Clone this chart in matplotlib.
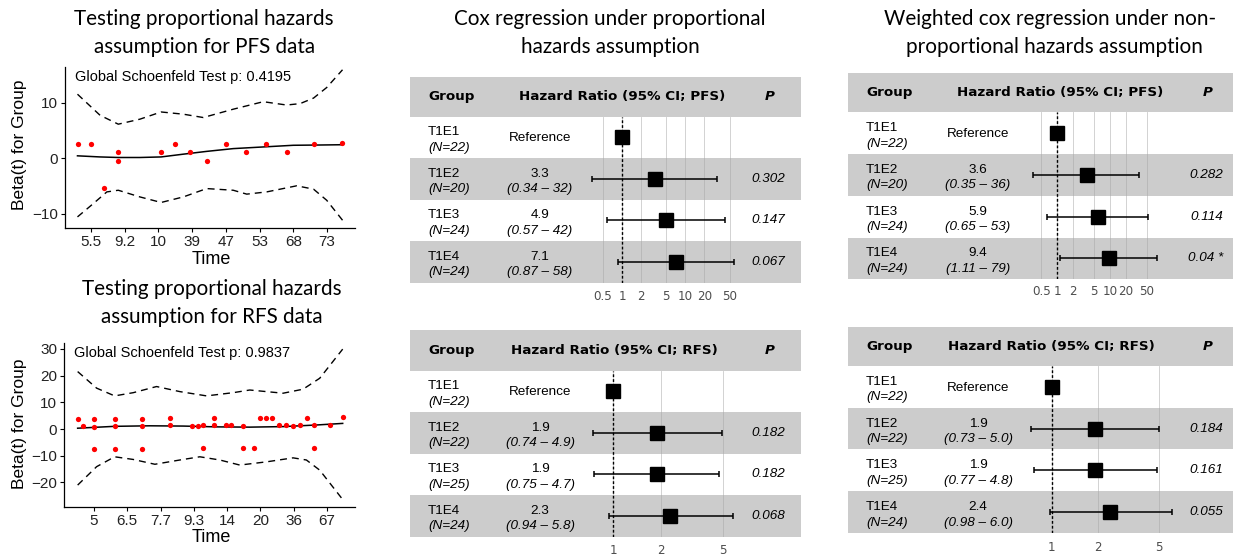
import numpy as np
import matplotlib.pyplot as plt
from matplotlib.patches import Rectangle
from matplotlib.transforms import blended_transform_factory

W, H = 1233, 558

# ---------------- Schoenfeld residual panels (x = rank of event time) ----------------
pfs_time_labels = ["5.5", "9.2", "10", "39", "47", "53", "68", "73"]
pfs_pt_x = [0.61, 1.00, 1.39, 1.80, 1.80, 3.08, 3.49, 3.94, 4.44, 5.00, 5.60, 6.19, 6.82, 7.62, 8.45]
pfs_pt_y = [2.5, 2.5, -5.4, 1.0, -0.6, 1.0, 2.5, 1.0, -0.6, 2.5, 1.0, 2.6, 1.1, 2.6, 2.7]
pfs_fit_x = [0.60, 1.27, 1.81, 2.45, 3.08, 3.74, 4.43, 5.22, 6.11, 7.00, 7.80, 8.46]
pfs_fit_y = [0.4, 0.2, 0.1, 0.1, 0.2, 0.7, 1.2, 1.7, 2.0, 2.3, 2.35, 2.4]
pfs_up_x = [0.60, 1.27, 1.81, 2.45, 3.08, 3.74, 4.33, 5.22, 6.11, 6.80, 7.20, 7.60, 7.99, 8.46]
pfs_up_y = [11.5, 7.7, 6.1, 7.0, 8.3, 7.9, 7.3, 8.8, 10.15, 9.55, 9.8, 10.8, 12.7, 15.9]
pfs_lo_x = [0.60, 1.07, 1.47, 1.81, 2.45, 3.08, 3.74, 4.43, 5.22, 5.62, 6.21, 7.10, 7.60, 7.99, 8.46]
pfs_lo_y = [-10.6, -8.2, -6.1, -5.8, -7.0, -8.0, -7.0, -5.5, -5.8, -6.5, -6.1, -5.0, -5.6, -7.6, -11.2]
pfs_global_p = "0.4195"

rfs_time_labels = ["5", "6.5", "7.7", "9.3", "14", "20", "36", "67"]
rfs_pt_x = [0.51, 0.66, 0.99, 0.99, 0.99, 1.62, 1.62, 1.62, 2.44, 2.44, 2.44, 3.27, 3.27,
            3.94, 4.11, 4.27, 4.27, 4.61, 4.61, 4.96, 5.12, 5.47, 5.47, 5.81, 5.99, 6.17,
            6.35, 6.56, 6.76, 6.97, 7.18, 7.40, 7.61, 7.61, 8.08, 8.47]
rfs_pt_y = [3.9, 1.1, 3.9, 0.9, -7.4, 3.9, 1.1, -7.4, 3.9, 1.1, -7.4, 4.1, 1.4,
            1.1, 1.1, 1.4, -7.0, 4.2, 1.4, 1.4, 1.4, 1.1, -7.0, -7.0, 4.2, 4.2,
            4.2, 1.5, 1.5, 1.2, 1.5, 4.2, 1.5, -7.0, 1.5, 4.6]
rfs_fit_x = [0.51, 1.62, 2.68, 3.68, 4.68, 5.68, 6.68, 7.68, 8.47]
rfs_fit_y = [0.3, 1.0, 1.2, 1.1, 0.8, 0.7, 0.9, 1.5, 2.1]
rfs_up_x = [0.51, 1.08, 1.62, 2.18, 2.88, 3.58, 4.38, 5.18, 5.68, 6.68, 7.28, 7.78, 8.47]
rfs_up_y = [21.5, 15.3, 12.4, 13.6, 15.9, 14.0, 12.4, 13.6, 14.6, 13.4, 14.9, 19.0, 29.9]
rfs_lo_x = [0.51, 1.08, 1.62, 2.18, 2.83, 3.58, 4.18, 4.78, 5.38, 6.18, 6.98, 7.38, 7.78, 8.47]
rfs_lo_y = [-21.0, -14.1, -10.4, -11.4, -13.2, -11.6, -10.4, -11.6, -13.5, -12.3, -10.8, -11.6, -15.4, -26.4]
rfs_global_p = "0.9837"

# ---------------- forest plot tables ----------------
groups = ["T1E1", "T1E2", "T1E3", "T1E4"]

pfs_cox_n = [22, 20, 24, 24]
pfs_cox_hr = [1, 3.3, 4.9, 7.1]
pfs_cox_lo = [1, 0.34, 0.57, 0.87]
pfs_cox_hi = [1, 32, 42, 58]
pfs_cox_ci = ["", "(0.34 – 32)", "(0.57 – 42)", "(0.87 – 58)"]
pfs_cox_p = ["", "0.302", "0.147", "0.067"]

rfs_cox_n = [22, 22, 25, 24]
rfs_cox_hr = [1, 1.9, 1.9, 2.3]
rfs_cox_lo = [1, 0.74, 0.75, 0.94]
rfs_cox_hi = [1, 4.9, 4.7, 5.8]
rfs_cox_ci = ["", "(0.74 – 4.9)", "(0.75 – 4.7)", "(0.94 – 5.8)"]
rfs_cox_p = ["", "0.182", "0.182", "0.068"]

pfs_w_n = [22, 20, 24, 24]
pfs_w_hr = [1, 3.6, 5.9, 9.4]
pfs_w_lo = [1, 0.35, 0.65, 1.11]
pfs_w_hi = [1, 36, 53, 79]
pfs_w_ci = ["", "(0.35 – 36)", "(0.65 – 53)", "(1.11 – 79)"]
pfs_w_p = ["", "0.282", "0.114", "0.04 *"]

rfs_w_n = [22, 22, 25, 24]
rfs_w_hr = [1, 1.9, 1.9, 2.4]
rfs_w_lo = [1, 0.73, 0.77, 0.98]
rfs_w_hi = [1, 5.0, 4.8, 6.0]
rfs_w_ci = ["", "(0.73 – 5.0)", "(0.77 – 4.8)", "(0.98 – 6.0)"]
rfs_w_p = ["", "0.184", "0.161", "0.055"]

pfs_breaks = [0.5, 1, 2, 5, 10, 20, 50]
rfs_breaks = [1, 2, 5]

GREY = "#cccccc"
BODY = "Liberation Sans"
TITLE = "Lato"

fig = plt.figure(figsize=(W / 100, H / 100), dpi=100)
over = fig.add_axes([0, 0, 1, 1])
over.set_xlim(0, W)
over.set_ylim(H, 0)
over.axis("off")


def px_axes(left, top, right, bottom):
    return fig.add_axes([left / W, 1 - bottom / H, (right - left) / W, (bottom - top) / H])


def schoenfeld(box, pt_x, pt_y, fit_x, fit_y, up_x, up_y, lo_x, lo_y, labels, yticks, xlim, ylim, gp):
    ax = px_axes(*box)
    ax.plot(up_x, up_y, color="black", lw=1, dashes=(5, 3.6))
    ax.plot(lo_x, lo_y, color="black", lw=1, dashes=(5, 3.6))
    ax.plot(fit_x, fit_y, color="black", lw=1.1)
    ax.plot(pt_x, pt_y, "o", color="red", ms=3.8, mec="none")
    ax.set_xticks(range(1, len(labels) + 1), labels)
    ax.set_yticks(yticks, [str(t).replace("-", "\u2212") for t in yticks])
    ax.set_xlim(xlim)
    ax.set_ylim(ylim)
    for s in ["top", "right"]:
        ax.spines[s].set_visible(False)
    for s in ["left", "bottom"]:
        ax.spines[s].set_linewidth(0.9)
    ax.tick_params(length=3, width=0.8, pad=2, labelsize=11, labelcolor="#222222")
    for t in ax.get_xticklabels() + ax.get_yticklabels():
        t.set_fontfamily(BODY)
    ax.text(0.035, 0.94, "Global Schoenfeld Test p: " + gp, transform=ax.transAxes,
            fontsize=10.5, family=BODY, va="center", ha="left")
    return ax


schoenfeld((65, 67, 355, 228), pfs_pt_x, pfs_pt_y, pfs_fit_x, pfs_fit_y, pfs_up_x, pfs_up_y,
           pfs_lo_x, pfs_lo_y, pfs_time_labels, [-10, 0, 10], (0.23, 8.83), (-12.6, 16.4), pfs_global_p)
schoenfeld((64, 343, 355, 507), rfs_pt_x, rfs_pt_y, rfs_fit_x, rfs_fit_y, rfs_up_x, rfs_up_y,
           rfs_lo_x, rfs_lo_y, rfs_time_labels, [-20, -10, 0, 10, 20, 30], (0.1, 8.84), (-29.2, 32.2), rfs_global_p)

for yc in (145, 424):
    over.text(20, yc, "Beta(t) for Group", rotation=90, ha="center", va="center",
              fontsize=12.5, family=BODY)
for yc in (259, 538):
    over.text(211, yc, "Time", ha="center", va="center", fontsize=13, family=BODY)


def forest(left, right, head_top, head_bot, rows_bot, one_px, decade_px, xlim, hr_x, title,
           counts, hr, lo, hi, ci, pvals, breaks, tick_y):
    n = len(groups)
    rh = (rows_bot - head_bot) / n
    over.add_patch(Rectangle((left, head_top), right - left, head_bot - head_top, color=GREY, lw=0))
    yh = (head_top + head_bot) / 2
    over.text(left + 18, yh, "Group", fontsize=9.7, weight="bold", family="DejaVu Sans", ha="left", va="center")
    over.text(hr_x, yh, title, fontsize=9.7, weight="bold", family="DejaVu Sans", ha="center", va="center")
    over.text(left + 360, yh, "P", fontsize=9.7, weight="bold", style="italic", family="DejaVu Sans",
              ha="center", va="center")
    for i, g in enumerate(groups):
        top = head_bot + i * rh
        yc = top + rh / 2
        if i % 2 == 1:
            over.add_patch(Rectangle((left, top), right - left, rh, color=GREY, lw=0))
        over.text(left + 18, yc - 5, g, fontsize=9.7, family=BODY, ha="left", va="center")
        over.text(left + 18, yc + 10.5, "(N=%d)" % counts[i], fontsize=9.7, family=BODY,
                  style="italic", ha="left", va="center")
        if i == 0:
            over.text(left + 130, yc + 1, "Reference", fontsize=9.7, family=BODY, ha="center", va="center")
        else:
            over.text(left + 130, yc - 5, "%.1f" % hr[i], fontsize=9.7, family=BODY, ha="center", va="center")
            over.text(left + 130, yc + 10.5, ci[i], fontsize=9.7, family=BODY, style="italic",
                      ha="center", va="center")
            over.text(left + 375, yc, pvals[i], fontsize=9.7, family=BODY, style="italic",
                      ha="right", va="center")

    ax_l = one_px + decade_px * np.log10(xlim[0])
    ax_r = one_px + decade_px * np.log10(xlim[1])
    ax = px_axes(ax_l, head_bot, ax_r, rows_bot)
    ax.set_xscale("log")
    ax.set_xlim(xlim)
    ax.set_ylim(n - 0.5, -0.5)
    ax.axis("off")
    rows = np.arange(n)
    for b in breaks:
        ax.axvline(b, color="#a8a8a8", lw=0.6, alpha=0.6)
    ax.axvline(1, color="black", lw=1, dashes=(2, 1.5))
    hr_a = np.array(hr[1:], dtype=float)
    ax.errorbar(hr_a, rows[1:], xerr=[hr_a - np.array(lo[1:]), np.array(hi[1:]) - hr_a],
                fmt="none", ecolor="black", elinewidth=1.1, capsize=2.3, capthick=1.1)
    ax.plot(hr, rows, "s", color="black", ms=10)
    tr = blended_transform_factory(ax.transData, over.transData)
    for b in breaks:
        over.text(b, tick_y, "%g" % b, transform=tr, fontsize=8.6, color="#4d4d4d",
                  family="DejaVu Sans", ha="center", va="center")


forest(410, 801, 76.7, 116.7, 282.7, 622, 63.3, (0.2, 90), 622, "Hazard Ratio (95% CI; PFS)",
       pfs_cox_n, pfs_cox_hr, pfs_cox_lo, pfs_cox_hi, pfs_cox_ci, pfs_cox_p, pfs_breaks, 296.7)
forest(410, 801, 330, 370.7, 536.7, 613.3, 157, (0.6, 7), 614, "Hazard Ratio (95% CI; RFS)",
       rfs_cox_n, rfs_cox_hr, rfs_cox_lo, rfs_cox_hi, rfs_cox_ci, rfs_cox_p, rfs_breaks, 550)
forest(848, 1233, 72.7, 112.3, 279.3, 1057.3, 52.7, (0.2, 100), 1060, "Hazard Ratio (95% CI; PFS)",
       pfs_w_n, pfs_w_hr, pfs_w_lo, pfs_w_hi, pfs_w_ci, pfs_w_p, pfs_breaks, 291.7)
forest(848, 1233, 326.7, 365.7, 533.3, 1051.7, 154, (0.6, 7), 1051, "Hazard Ratio (95% CI; RFS)",
       rfs_w_n, rfs_w_hr, rfs_w_lo, rfs_w_hi, rfs_w_ci, rfs_w_p, rfs_breaks, 547.3)

# panel titles
titles = [
    (204, 25, "Testing proportional hazards"), (205, 53, "assumption for PFS data"),
    (212, 295, "Testing proportional hazards"), (212, 323, "assumption for RFS data"),
    (610, 25, "Cox regression under proportional"), (610, 53, "hazards assumption"),
    (1050, 25, "Weighted cox regression under non-"), (1054, 53, "proportional hazards assumption"),
]
for x, y, s in titles:
    over.text(x, y, s, fontsize=14.9, family=TITLE, ha="center", va="baseline")

fig.savefig("out.png", dpi=100)
